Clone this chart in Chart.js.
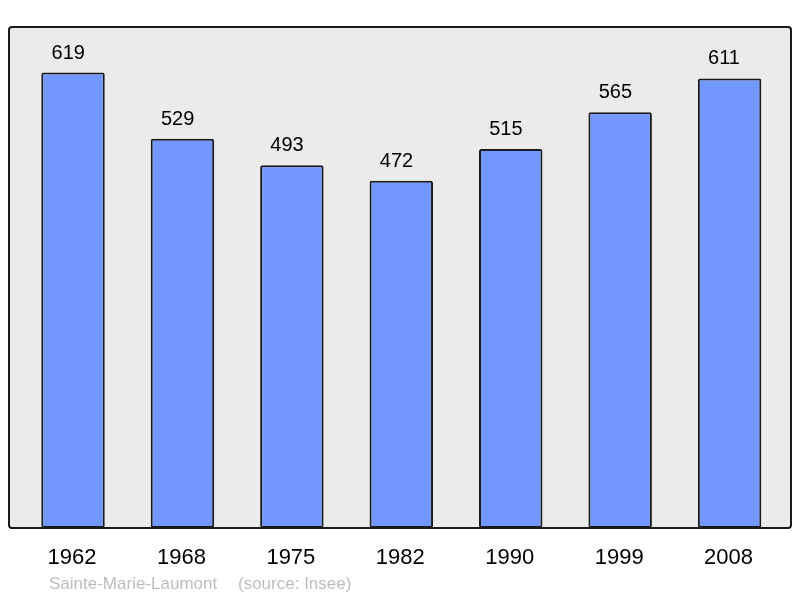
<!DOCTYPE html>
<html><head><meta charset="utf-8">
<script src="https://cdn.jsdelivr.net/npm/chart.js@4/dist/chart.umd.min.js"></script>
<style>html,body{margin:0;padding:0;background:#fff}#wrap{width:800px;height:598px}</style>
</head><body><div id="wrap"><canvas id="c" width="800" height="598"></canvas></div>
<script>
const years = ["1962","1968","1975","1982","1990","1999","2008"];
const population = [619,529,493,472,515,565,611];
const commune = "Sainte-Marie-Laumont";
const sourceText = "(source: Insee)";

const framePlugin = {
  id:'frame',
  beforeDraw(chart){
    const {ctx, chartArea:a} = chart;
    const x0=a.left-9.3, x1=a.right+6.7, y0=a.top, y1=a.bottom;
    ctx.save();
    ctx.beginPath();
    ctx.roundRect(x0,y0,x1-x0,y1-y0,3);
    ctx.fillStyle='#ebebeb';
    ctx.fill();
    ctx.lineWidth=2;
    ctx.strokeStyle='#1a1a1a';
    ctx.stroke();
    ctx.restore();
  },
  afterDatasetsDraw(chart){
    const {ctx, chartArea:a} = chart;
    const meta = chart.getDatasetMeta(0);
    const xs = chart.scales.x;
    ctx.save();
    ctx.fillStyle='#000';
    ctx.font='20px "Liberation Sans", Arial, sans-serif';
    ctx.textAlign='left';
    ctx.textBaseline='alphabetic';
    meta.data.forEach((bar,i)=>{
      ctx.fillText(String(population[i]), bar.x-21.5, bar.y-14);
    });
    ctx.font='22px "Liberation Sans", Arial, sans-serif';
    ctx.textAlign='center';
    years.forEach((y,i)=>{
      ctx.fillText(y, xs.getPixelForValue(i)-1, a.bottom+36);
    });
    ctx.font='17px "Liberation Sans", Arial, sans-serif';
    ctx.fillStyle='#bdbdbd';
    ctx.textAlign='left';
    ctx.fillText(commune, 49, a.bottom+61);
    ctx.fillText(sourceText, 238, a.bottom+61);
    ctx.restore();
  }
};

new Chart(document.getElementById('c'),{
  type:'bar',
  data:{labels:years,datasets:[{data:population,backgroundColor:'#7298ff',borderColor:'#1a1a1a',borderWidth:2,borderRadius:2,borderSkipped:false,barPercentage:0.58,categoryPercentage:1}]},
  options:{
    responsive:false,animation:false,
    layout:{padding:{left:18.3,right:15.7,top:27,bottom:70}},
    plugins:{legend:{display:false},tooltip:{enabled:false}},
    scales:{
      x:{display:false},
      y:{display:false,min:0,max:681}
    }
  },
  plugins:[framePlugin]
});
</script></body></html>
